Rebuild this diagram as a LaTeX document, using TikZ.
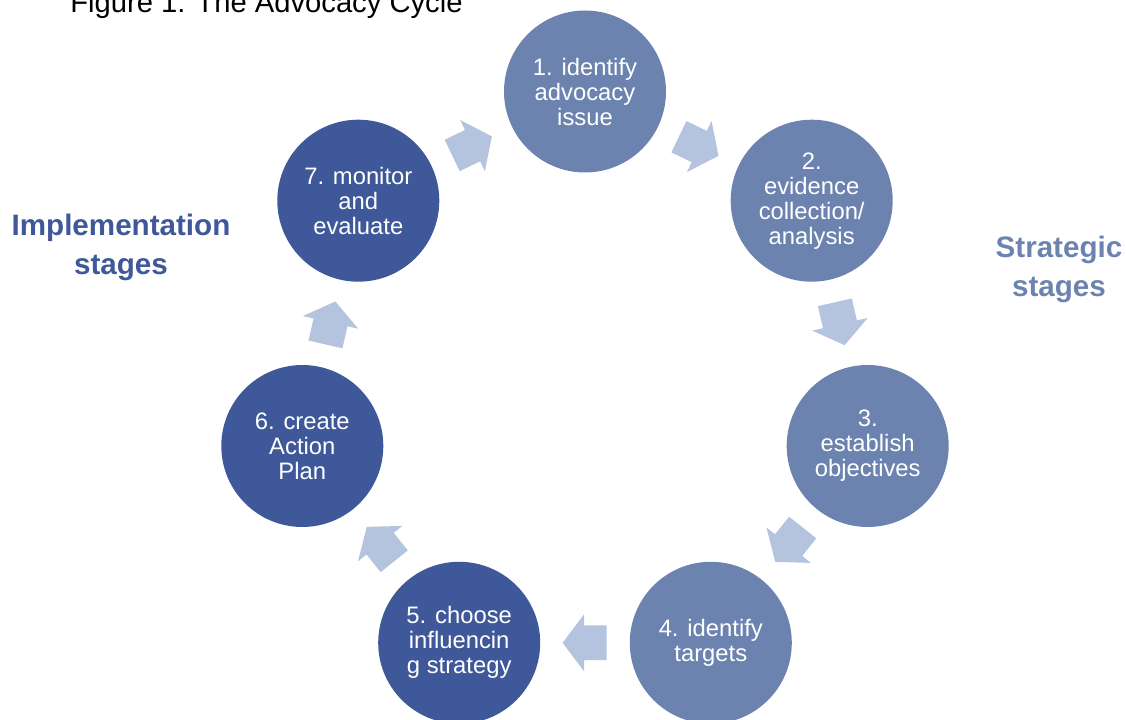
\documentclass[tikz,border=0pt]{standalone}
\usepackage{fontspec}
\setmainfont{Liberation Sans}
\usetikzlibrary{shapes.arrows,calc}
\definecolor{stratblue}{HTML}{6C83B0}
\definecolor{implblue}{HTML}{3E5899}
\definecolor{arrowblue}{HTML}{B4C3DE}
\tikzset{
  stage/.style={circle,minimum size=81pt,inner sep=0pt,text=white,align=center,font=\fontsize{11.9}{12.5}\selectfont},
  strategic/.style={stage,fill=stratblue},
  implement/.style={stage,fill=implblue},
  cyclearrow/.style={single arrow,fill=arrowblue,anchor=tail,inner sep=0pt,inner ysep=8.5pt,minimum height=22pt,single arrow head extend=5.5pt,single arrow tip angle=106},
  phase/.style={align=center,inner sep=0pt,font=\fontsize{14.8}{19.5}\selectfont\bfseries}
}
\begin{document}
\begin{tikzpicture}[x=0.5pt,y=0.5pt]
  \useasboundingbox (0,0) rectangle (1126,719);
  \node[anchor=base west,inner sep=0pt,font=\fontsize{14.6}{17}\selectfont] (title) at (70,706) {Figure 1: The Advocacy Cycle};
  \node[phase,text=implblue] (impl) at (121,472) {Implementation\\stages};
  \node[phase,text=stratblue] (strat) at (1059,450) {Strategic\\stages};
  \node[strategic] (c1) at (585,627.5) {1. identify\\advocacy\\issue};
  \node[strategic] (c2) at (811.7,518.3) {2.\\evidence\\collection/\\analysis};
  \node[strategic] (c3) at (867.7,273) {3.\\establish\\objectives};
  \node[strategic] (c4) at (710.8,76.2) {4. identify\\targets};
  \node[implement] (c5) at (459.2,76.2) {5. choose\\influencin\\g strategy};
  \node[implement] (c6) at (302.3,273) {6. create\\Action\\Plan};
  \node[implement] (c7) at (358.3,518.3) {7. monitor\\and\\evaluate};
  \node[cyclearrow,rotate=-25.714] (a12) at ($(c1)!0.5!(c2)!11pt!(c1)$) {};
  \node[cyclearrow,rotate=-77.143] (a23) at ($(c2)!0.5!(c3)!11pt!(c2)$) {};
  \node[cyclearrow,rotate=-128.571] (a34) at ($(c3)!0.5!(c4)!11pt!(c3)$) {};
  \node[cyclearrow,rotate=180] (a45) at ($(c4)!0.5!(c5)!11pt!(c4)$) {};
  \node[cyclearrow,rotate=128.571] (a56) at ($(c5)!0.5!(c6)!11pt!(c5)$) {};
  \node[cyclearrow,rotate=77.143] (a67) at ($(c6)!0.5!(c7)!11pt!(c6)$) {};
  \node[cyclearrow,rotate=25.714] (a71) at ($(c7)!0.5!(c1)!11pt!(c7)$) {};
\end{tikzpicture}
\end{document}
